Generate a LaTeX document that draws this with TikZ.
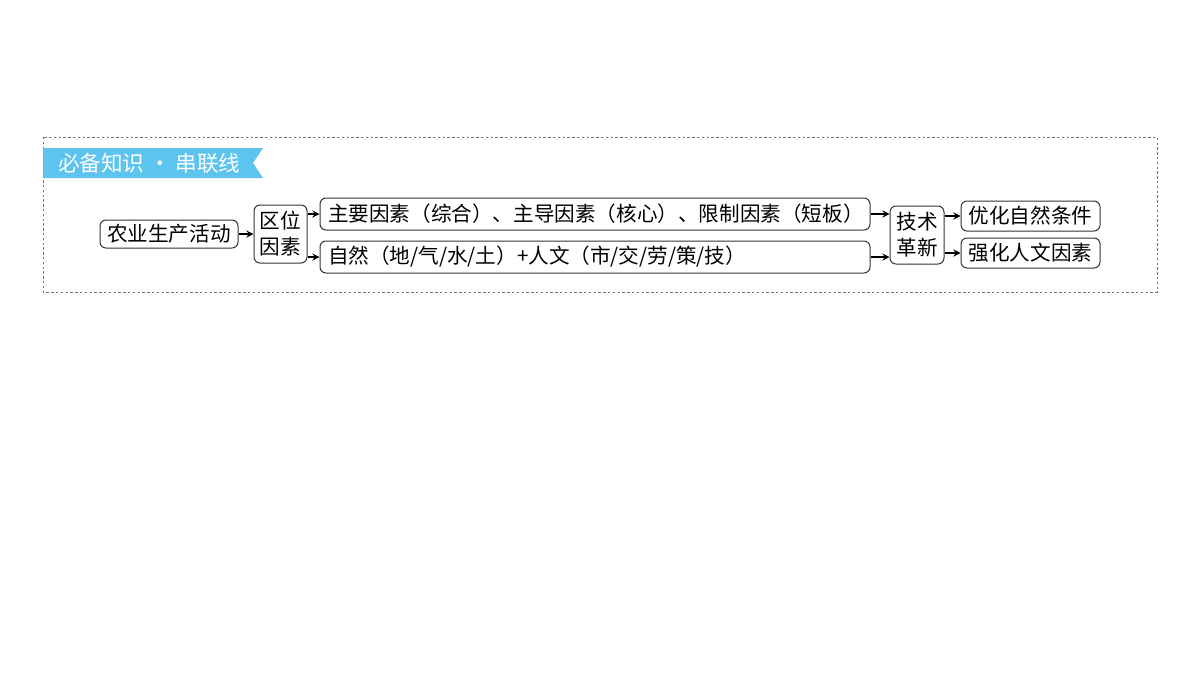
\documentclass[tikz,border=0pt]{standalone}
\usepackage{fontspec}
\setmainfont{Noto Sans CJK SC}
\usepackage{xcolor}
\usetikzlibrary{positioning}
\definecolor{bannerblue}{RGB}{92,196,238}
\tikzset{box/.style={draw=black!80,rounded corners=3pt,line width=0.5pt,inner sep=0pt,font=\fontsize{10.3}{13}\selectfont}}
\tikzset{longbox/.style={box,text width=267pt,align=left,inner xsep=4pt,minimum height=16pt}}

\begin{document}
\begin{tikzpicture}[>=stealth,x=0.5pt,y=-0.5pt]
    \useasboundingbox (0,0) rectangle (1200,675);
    \draw [black!55,line width=0.5pt,dash pattern=on 1.2pt off 1.2pt] (43,137) rectangle (1157,292);
    \fill [bannerblue] (43,148) -- (263,148) -- (253,163) -- (263,178) -- (43,178) -- cycle;
    \node[text=white,font=\fontsize{10.8}{12}\selectfont,anchor=west] (title) at (51,163) {必备知识 · 串联线};

    \node[box,minimum width=69pt,minimum height=14pt] (farm) at (169,234) {农业生产活动};
    \node[box,align=center,minimum width=26.5pt,minimum height=29pt] (qw) at (280.5,234) {区位\\因素};
    \node[longbox] (main) at (595,214) {主要因素（综合）、主导因素（核心）、限制因素（短板）};
    \node[longbox] (nat) at (595,257) {自然（地/气/水/土）+人文（市/交/劳/策/技）};
    \node[box,align=center,minimum width=27pt,minimum height=29pt] (tech) at (917,235) {技术\\革新};
    \node[box,minimum width=69.5pt,minimum height=15pt] (opt) at (1030.5,216) {优化自然条件};
    \node[box,minimum width=69.5pt,minimum height=15pt] (hum) at (1030.5,253) {强化人文因素};

    \draw [->,line width=0.6pt] (farm) to [] (qw);
    \draw [->,line width=0.6pt] (qw.east |- main.west) to [] (main.west);
    \draw [->,line width=0.6pt] (qw.east |- nat.west) to [] (nat.west);
    \draw [->,line width=0.6pt] (main.east) to [] (main.east -| tech.west);
    \draw [->,line width=0.6pt] (nat.east) to [] (nat.east -| tech.west);
    \draw [->,line width=0.6pt] (tech.east |- opt.west) to [] (opt.west);
    \draw [->,line width=0.6pt] (tech.east |- hum.west) to [] (hum.west);
\end{tikzpicture}
\end{document}
